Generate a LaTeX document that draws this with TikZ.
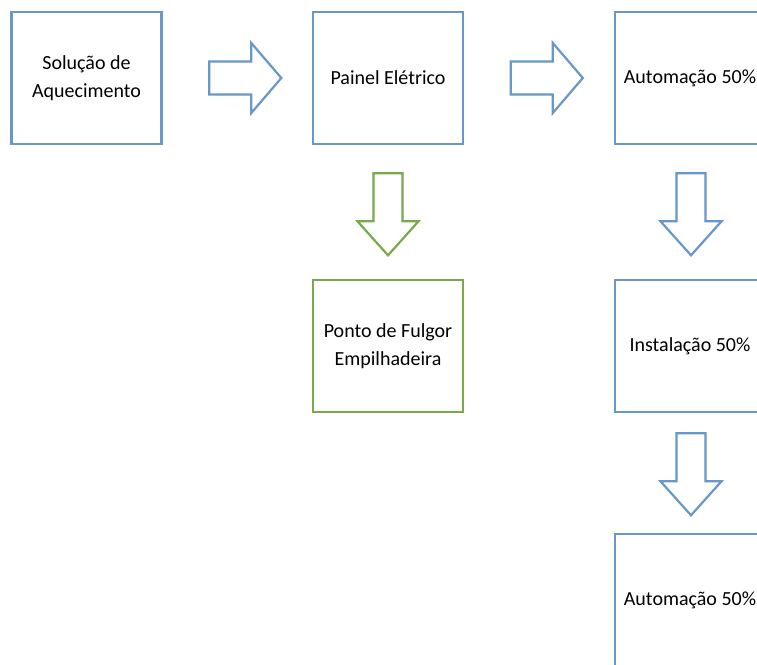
\documentclass[tikz,border=0pt]{standalone}
\usepackage{fontspec}
\setmainfont{Carlito}
\usetikzlibrary{calc}
\definecolor{flowblue}{RGB}{104,152,200}
\definecolor{flowgreen}{RGB}{119,170,75}
\tikzset{
  stepbox/.style={draw=flowblue, line width=2.6pt, minimum width=150pt, minimum height=132pt,
    inner sep=0pt, align=center, font=\fontsize{20}{28}\selectfont},
  greenbox/.style={stepbox, draw=flowgreen},
  rarrow/.pic={\draw[pic actions] (0,-16.5) -- (42,-16.5) -- (42,-35) -- (72,0) -- (42,35) -- (42,16.5) -- (0,16.5) -- cycle;},
  darrow/.pic={\draw[pic actions] (-14.5,0) -- (-14.5,48) -- (-30.5,48) -- (0,82) -- (30.5,48) -- (14.5,48) -- (14.5,0) -- cycle;},
  bluearrow/.style={draw=flowblue, line width=2.2pt, line join=miter},
  greenarrow/.style={draw=flowgreen, line width=2.2pt, line join=miter}
}
\begin{document}
\begin{tikzpicture}[x=1pt, y=-1pt]
  \useasboundingbox (0,0) rectangle (757,664);
  \fill[white] (0,0) rectangle (757,664);
  \clip (0,0) rectangle (757,664);

  % process steps
  \node[stepbox] (sol) at (86.5,78) {Solução de\\Aquecimento};
  \node[stepbox] (pe) at (388,78) {Painel Elétrico};
  \node[stepbox] (auto1) at (690,78) {Automação 50\%};
  \node[greenbox] (pf) at (388,346) {Ponto de Fulgor\\Empilhadeira};
  \node[stepbox] (inst) at (690,346) {Instalação 50\%};
  \node[stepbox] (auto2) at (690,600) {Automação 50\%};

  % block arrows between the steps
  \pic[bluearrow] at ($(sol.east)+(46.5,0)$) {rarrow};
  \pic[bluearrow] at ($(pe.east)+(46.5,0)$) {rarrow};
  \pic[greenarrow] at ($(pe.south)+(0,28)$) {darrow};
  \pic[bluearrow] at ($(auto1.south)+(1,28)$) {darrow};
  \pic[bluearrow] at ($(inst.south)+(1,20)$) {darrow};
\end{tikzpicture}
\end{document}
